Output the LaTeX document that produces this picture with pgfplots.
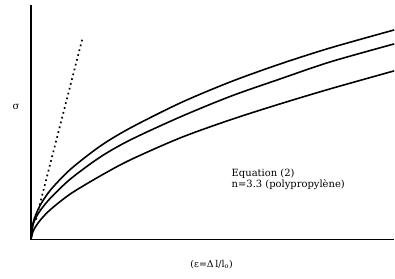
\documentclass[border=0pt]{standalone}
\usepackage{pgfplots}
\pgfplotsset{compat=1.18}
\usepackage{fontspec}
\setmainfont{DejaVu Serif}
\begin{document}
\begin{tikzpicture}
\begin{axis}[
  at={(0,0)}, anchor=south west,
  scale only axis, width=364bp, height=235bp,
  xmin=0, xmax=364, ymin=0, ymax=235,
  axis lines=left,
  axis line style={-, line width=1.5pt},
  xtick=\empty, ytick=\empty,
  clip=false,
]
\addplot[black, line width=1.6pt, smooth] coordinates {
(0,0) (2,16.1) (5,25.1) (10,35.6) (20,50.1) (40,70.7) (70,94) (100,112) (150,137) (200,158) (250,176) (300,192) (364,210)};
\addplot[black, line width=1.6pt, smooth] coordinates {
(0,0) (2,14.5) (5,22) (10,30) (20,42) (40,61) (70,83) (100,100) (150,123) (200,143.5) (250,161) (300,178) (364,196)};
\addplot[black, line width=1.6pt, smooth] coordinates {
(0,0) (2,7.8) (5,13.4) (10,20.2) (20,30.4) (40,46) (70,64) (100,80) (150,102) (200,120) (250,136) (300,151) (364,169)};
\addplot[black, line width=1.7pt, dash pattern=on 1.7pt off 3.3pt] coordinates {(5,20) (52,203)};
\node[font=\fontsize{10}{12}\selectfont] at (axis cs:-15,133) {σ};
\node[font=\fontsize{9.5}{11}\selectfont] at (axis cs:181,-25) {(ε=Δ\,l/l$_{\mathrm{o}}$)};
\node[anchor=north west, align=left, font=\fontsize{10}{11}\selectfont, inner sep=0pt] at (axis cs:201,71) {Equation (2)\\ n=3.3 (polypropylène)};
\end{axis}
\useasboundingbox (-31bp,-39bp) rectangle (364bp,240bp);
\end{tikzpicture}
\end{document}
